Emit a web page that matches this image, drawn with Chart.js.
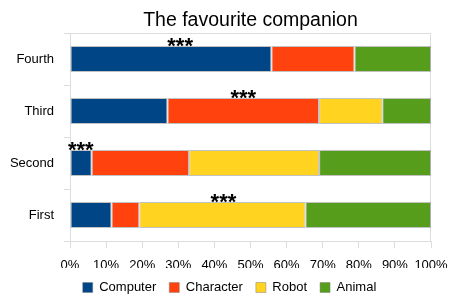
<!DOCTYPE html>
<html><head><meta charset="utf-8">
<script src="https://cdn.jsdelivr.net/npm/chart.js@4/dist/chart.umd.min.js"></script>
<style>html,body{margin:0;padding:0;background:#fff}#c{display:block}</style>
</head><body>
<canvas id="c" width="449" height="297"></canvas>
<script>
const categories = ['First', 'Second', 'Third', 'Fourth'];
const seriesNames = ['Computer', 'Character', 'Robot', 'Animal'];
const computer = [11.5, 6, 27, 55.8];
const character = [7.7, 27, 42, 23];
const robot = [46, 36, 17.5, 0];
const animal = [34.8, 31, 13.5, 21.2];
const colors = ['#004586', '#ff420e', '#ffd320', '#579d1c'];
const starLabel = '***';
const starX = [42.5, 3, 48, 30.5]; // percent position of the *** mark per category
const titleText = 'The favourite companion';
const xTicks = [0, 10, 20, 30, 40, 50, 60, 70, 80, 90, 100];

const FONT = 'Liberation Sans, Arial, sans-serif';
const values = [computer, character, robot, animal];

const extras = {
  id: 'extras',
  afterLayout(chart) {
    if (chart.legend) { chart.legend.left += 14; chart.legend.right += 14; }
  },
  beforeDatasetsDraw(chart) {
    const {ctx, chartArea: a} = chart;
    ctx.save();
    ctx.strokeStyle = '#dddddd';
    ctx.lineWidth = 1;
    ctx.strokeRect(Math.round(a.left) + 0.5, Math.round(a.top) + 0.5, Math.round(a.right - a.left) - 1, Math.round(a.bottom - a.top));
    ctx.restore();
  },
  afterDatasetsDraw(chart) {
    const {ctx, chartArea: a} = chart;
    const xs = chart.scales.x;
    ctx.save();
    ctx.fillStyle = '#000';
    ctx.font = 'bold 22px ' + FONT;
    ctx.textAlign = 'center';
    ctx.textBaseline = 'alphabetic';
    const meta = chart.getDatasetMeta(0);
    categories.forEach((c, i) => {
      const bar = meta.data[i];
      const top = bar.y - bar.height / 2;
      ctx.fillText(starLabel, xs.getPixelForValue(starX[i]), top + 7);
    });
    ctx.font = '19.5px ' + FONT;
    ctx.fillText(titleText, (a.left + a.right) / 2, 26);
    ctx.restore();
  }
};

new Chart(document.getElementById('c'), {
  type: 'bar',
  data: {
    labels: categories,
    datasets: seriesNames.map((n, k) => ({
      label: n,
      data: values[k],
      backgroundColor: colors[k],
      borderColor: 'rgba(120,120,120,0.45)',
      borderWidth: 1,
      borderSkipped: false,
      categoryPercentage: 1,
      barPercentage: 0.5
    }))
  },
  plugins: [extras],
  options: {
    indexAxis: 'y',
    responsive: false,
    animation: false,
    devicePixelRatio: 1,
    layout: {padding: {top: 33, right: 18, left: 0, bottom: -7}},
    plugins: {
      title: {display: false},
      tooltip: {enabled: false},
      legend: {
        position: 'bottom',
        labels: {
          boxWidth: 10, boxHeight: 10, color: '#000',
          font: {family: FONT, size: 13},
          padding: 13
        }
      }
    },
    scales: {
      x: {
        stacked: true, min: 0, max: 100,
        afterBuildTicks(s) { s.ticks = xTicks.map(v => ({value: v})); },
        afterFit(s) { s.height = 27; s.paddingLeft = 0; s.paddingRight = 0; },
        ticks: {callback: v => v + '%', color: '#000', font: {family: FONT, size: 13}, maxRotation: 0, autoSkip: false, padding: 10},
        grid: {drawOnChartArea: false, color: '#dddddd', tickLength: 7},
        border: {display: true, color: '#dddddd'}
      },
      y: {
        stacked: true, reverse: true,
        afterFit(s) { s.width = 70; },
        ticks: {color: '#000', font: {family: FONT, size: 13}, padding: 10},
        grid: {offset: true, drawOnChartArea: false, color: '#dddddd', tickLength: 6},
        border: {display: true, color: '#dddddd'}
      }
    }
  }
});
</script>
</body></html>
